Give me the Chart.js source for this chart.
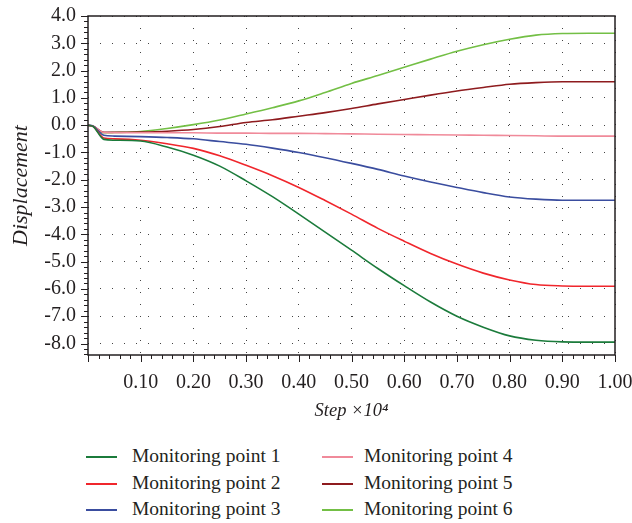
<!DOCTYPE html>
<html>
<head>
<meta charset="utf-8">
<script src="https://cdn.jsdelivr.net/npm/chart.js@4"></script>
<style>
  body { margin: 0; background: #fff; }
  #wrap { position: relative; width: 632px; height: 523px; }
  #chart { position: absolute; left: 0; top: 0; }
  .item { position: absolute; height: 26px; line-height: 26px; white-space: nowrap;
          font-family: "Liberation Serif", serif; font-size: 19.5px; color: #231f20; }
  .item .line { position: absolute; top: 13px; width: 31px; height: 2px; }
</style>
</head>
<body>
<div id="wrap">
  <canvas id="chart" width="632" height="440"></canvas>
  <div id="legend"></div>
</div>
<script>
const steps = [0, 0.01, 0.03, 0.05, 0.10, 0.15, 0.20, 0.25, 0.30, 0.35, 0.40, 0.45,
               0.50, 0.55, 0.60, 0.65, 0.70, 0.75, 0.80, 0.85, 0.90, 0.95, 1.00];

const point1 = [0, -0.05, -0.52, -0.55, -0.58, -0.8, -1.1, -1.5, -2.04, -2.62, -3.26, -3.92,
                -4.58, -5.25, -5.88, -6.48, -7.0, -7.4, -7.72, -7.88, -7.94, -7.95, -7.95];
const point2 = [0, -0.05, -0.47, -0.5, -0.55, -0.68, -0.85, -1.12, -1.47, -1.85, -2.28, -2.76,
                -3.26, -3.78, -4.25, -4.7, -5.09, -5.42, -5.67, -5.84, -5.89, -5.9, -5.9];
const point3 = [0, -0.04, -0.37, -0.4, -0.42, -0.45, -0.5, -0.6, -0.7, -0.84, -1.0, -1.19,
                -1.4, -1.62, -1.86, -2.08, -2.28, -2.47, -2.63, -2.71, -2.75, -2.75, -2.75];
const point4 = [0, -0.04, -0.27, -0.28, -0.28, -0.28, -0.28, -0.29, -0.29, -0.3, -0.3, -0.31,
                -0.32, -0.33, -0.34, -0.35, -0.36, -0.37, -0.38, -0.39, -0.4, -0.4, -0.4];
const point5 = [0, -0.04, -0.26, -0.26, -0.25, -0.22, -0.16, -0.05, 0.1, 0.2, 0.33, 0.46,
                0.61, 0.78, 0.94, 1.1, 1.25, 1.38, 1.5, 1.56, 1.59, 1.59, 1.59];
const point6 = [0, -0.04, -0.28, -0.27, -0.23, -0.12, 0.02, 0.19, 0.41, 0.64, 0.89, 1.2,
                1.53, 1.82, 2.12, 2.42, 2.71, 2.95, 3.15, 3.3, 3.36, 3.37, 3.37];

const seriesLabels = ['Monitoring point 1', 'Monitoring point 2', 'Monitoring point 3',
                      'Monitoring point 4', 'Monitoring point 5', 'Monitoring point 6'];
const seriesColors = ['#1b7b3b', '#f0262c', '#3a4d9f', '#f08a9a', '#8e1b1e', '#73bf45'];
const seriesValues = [point1, point2, point3, point4, point5, point6];

const xTicks = [0.1, 0.2, 0.3, 0.4, 0.5, 0.6, 0.7, 0.8, 0.9, 1.0];
const yTicks = [-8, -7, -6, -5, -4, -3, -2, -1, 0, 1, 2, 3, 4];

const ink = '#231f20';
const serif = '"Liberation Serif", serif';

// frame + minor ticks, the library has no minor ticks
const frame = {
  id: 'frame',
  afterDraw(chart) {
    const { ctx, chartArea: a, scales: { x, y } } = chart;
    ctx.save();
    ctx.strokeStyle = ink;
    ctx.lineWidth = 1;
    ctx.beginPath();
    for (let i = 0; i <= 50; i++) {
      const px = Math.round(x.getPixelForValue(i / 50)) + 0.5;
      const len = i % 5 === 0 ? 7 : 4;
      ctx.moveTo(px, a.bottom);
      ctx.lineTo(px, a.bottom + len);
    }
    for (let i = -42; i <= 20; i++) {
      const py = Math.round(y.getPixelForValue(i / 5)) + 0.5;
      const len = i % 5 === 0 ? 7 : 4;
      ctx.moveTo(a.left, py);
      ctx.lineTo(a.left - len, py);
    }
    ctx.stroke();
    ctx.lineWidth = 1.5;
    ctx.strokeRect(a.left, a.top, a.right - a.left, a.bottom - a.top);
    ctx.restore();
  }
};

const datasets = seriesValues.map((vals, i) => ({
  label: seriesLabels[i],
  data: steps.map((s, j) => ({ x: s, y: vals[j] })),
  borderColor: seriesColors[i],
  borderWidth: 1.6,
  pointRadius: 0,
  cubicInterpolationMode: 'monotone',
  fill: false
}));

new Chart(document.getElementById('chart'), {
  type: 'line',
  data: { datasets },
  options: {
    responsive: false,
    animation: false,
    layout: { padding: 0 },
    plugins: { legend: { display: false }, tooltip: { enabled: false } },
    scales: {
      x: {
        type: 'linear', min: 0, max: 1,
        afterBuildTicks: s => { s.ticks = xTicks.map(v => ({ value: v })); },
        afterFit: s => { s.height = 85; s.paddingLeft = 0; s.paddingRight = 17; },
        grid: { color: '#444', lineWidth: 1, drawTicks: false },
        border: { display: false, dash: [1, 11] },
        ticks: { padding: 16, maxRotation: 0, color: ink, font: { family: serif, size: 20 },
                 callback: v => v.toFixed(2) },
        title: { display: true, text: 'Step ×10⁴', color: ink,
                 font: { family: serif, size: 18.5, style: 'italic' },
                 padding: { top: 0, bottom: 18 } }
      },
      y: {
        type: 'linear', min: -8.42, max: 4,
        afterBuildTicks: s => { s.ticks = yTicks.map(v => ({ value: v })); },
        afterFit: s => { s.width = 88; s.paddingTop = 16; s.paddingBottom = 0; },
        grid: { color: '#444', lineWidth: 1, drawTicks: false },
        border: { display: false, dash: [1, 11] },
        ticks: { padding: 12, color: ink, font: { family: serif, size: 20 },
                 callback: v => v.toFixed(1) },
        title: { display: true, text: 'Displacement', color: ink,
                 font: { family: serif, size: 22, style: 'italic' },
                 padding: { top: 8, bottom: 0 } }
      }
    }
  },
  plugins: [frame]
});

// legend in two columns, filled top to bottom
const legend = document.getElementById('legend');
seriesLabels.forEach((label, i) => {
  const col = Math.floor(i / 3), row = i % 3;
  const item = document.createElement('div');
  item.className = 'item';
  item.style.left = (col ? 322 : 86) + 'px';
  item.style.top = (443 + row * 26.5) + 'px';
  item.style.paddingLeft = (col ? 42 : 46) + 'px';
  item.innerHTML = `<span class="line" style="left:0;background:${seriesColors[i]}"></span>${label}`;
  legend.appendChild(item);
});
</script>
</body>
</html>
